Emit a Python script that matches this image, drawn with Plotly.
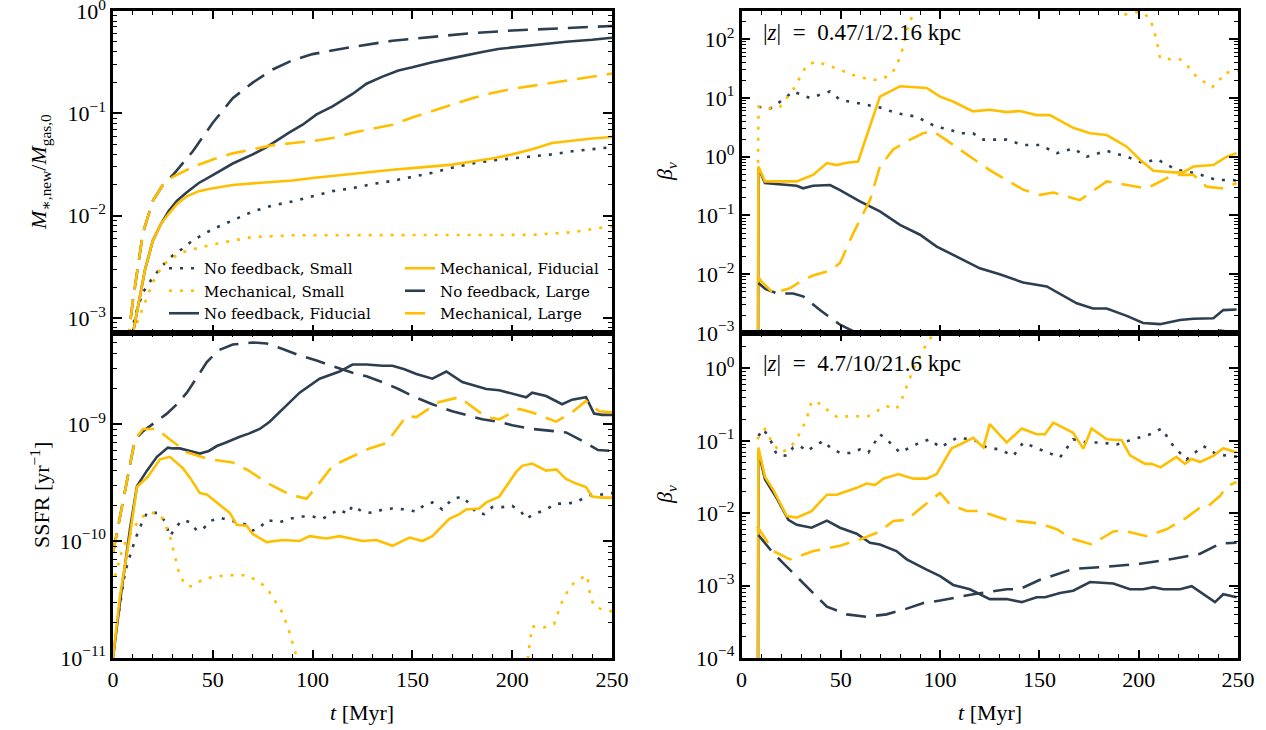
import plotly.graph_objects as go

# ---------------------------------------------------------------- colours
NAVY = "#2c3e50"
GOLD = "#ffbf00"
FONT = "Liberation Serif, DejaVu Serif, serif"
LEGEND_FAMILY = "DejaVu Serif, Liberation Serif, serif"

# ---------------------------------------------------------------- labels
LABELS = {
    "nf_small": "No feedback, Small",
    "mech_small": "Mechanical, Small",
    "nf_fid": "No feedback, Fiducial",
    "mech_fid": "Mechanical, Fiducial",
    "nf_large": "No feedback, Large",
    "mech_large": "Mechanical, Large",
}

# ================================================================ panel 1: new stellar mass fraction
T_MASS_NF_SMALL = [9, 12, 15, 20, 25, 30, 35, 40, 50, 60, 70, 80, 90, 100, 110, 120, 130, 140, 150,
                   160, 170, 180, 190, 200, 210, 220, 230, 240, 250]
MASS_NF_SMALL = [7.1e-4, 1.2e-3, 1.78e-3, 2.5e-3, 3.3e-3, 4.1e-3, 4.8e-3, 5.75e-3, 7.4e-3, 9.1e-3,
                 1.1e-2, 1.26e-2, 1.38e-2, 1.55e-2, 1.74e-2, 1.86e-2, 2.04e-2, 2.19e-2, 2.4e-2,
                 2.63e-2, 2.95e-2, 3.24e-2, 3.47e-2, 3.63e-2, 3.8e-2, 3.98e-2, 4.27e-2, 4.47e-2, 4.68e-2]

T_MASS_MECH_SMALL = [10, 15, 20, 25, 30, 35, 40, 50, 60, 70, 80, 90, 100, 150, 200, 210, 220, 230, 240, 250]
MASS_MECH_SMALL = [7.1e-4, 1.26e-3, 2.24e-3, 3.3e-3, 3.9e-3, 4.4e-3, 4.7e-3, 5.25e-3, 5.75e-3, 6.2e-3,
                   6.3e-3, 6.45e-3, 6.45e-3, 6.45e-3, 6.45e-3, 6.5e-3, 6.7e-3, 6.9e-3, 7.4e-3, 7.9e-3]

T_MASS_NF_FID = [10, 12, 16, 20, 24, 28, 32, 37, 43, 50, 60, 70, 77, 88, 95, 102, 110, 120, 127, 135,
                 143, 150, 160, 170, 177, 185, 193, 200, 210, 220, 227, 240, 250]
MASS_NF_FID = [7.1e-4, 1.12e-3, 2.95e-3, 5.75e-3, 8.3e-3, 1.12e-2, 1.4e-2, 1.7e-2, 2.09e-2, 2.5e-2,
               3.24e-2, 3.98e-2, 4.68e-2, 6.46e-2, 7.76e-2, 9.77e-2, 0.117, 0.155, 0.195, 0.229,
               0.263, 0.282, 0.316, 0.347, 0.372, 0.398, 0.427, 0.442, 0.468, 0.490, 0.501, 0.525, 0.55]

T_MASS_MECH_FID = [10, 12, 16, 20, 24, 28, 32, 37, 43, 50, 60, 70, 80, 90, 100, 110, 120, 130, 140,
                   150, 160, 170, 180, 190, 200, 210, 220, 230, 240, 250]
MASS_MECH_FID = [7.1e-4, 1.12e-3, 2.95e-3, 5.75e-3, 8.3e-3, 1.05e-2, 1.3e-2, 1.55e-2, 1.74e-2, 1.86e-2,
                 2.0e-2, 2.07e-2, 2.14e-2, 2.21e-2, 2.34e-2, 2.45e-2, 2.57e-2, 2.72e-2, 2.82e-2,
                 2.92e-2, 3.02e-2, 3.16e-2, 3.39e-2, 3.63e-2, 3.98e-2, 4.47e-2, 5.13e-2, 5.43e-2,
                 5.69e-2, 5.89e-2]

T_MASS_NF_LARGE = [7, 10, 15, 20, 25, 30, 40, 50, 60, 70, 80, 90, 100, 120, 140, 160, 180, 200, 225, 250]
MASS_NF_LARGE = [5.0e-4, 1.5e-3, 6.8e-3, 1.41e-2, 2.0e-2, 2.5e-2, 4.27e-2, 8.1e-2, 0.141, 0.20, 0.269,
                 0.331, 0.38, 0.447, 0.513, 0.562, 0.61, 0.646, 0.684, 0.716]

T_MASS_MECH_LARGE = [7, 10, 15, 20, 25, 30, 40, 50, 60, 70, 80, 90, 100, 110, 120, 130, 140, 150, 160,
                     170, 180, 190, 200, 210, 220, 230, 240, 250]
MASS_MECH_LARGE = [5.0e-4, 1.5e-3, 6.8e-3, 1.41e-2, 2.0e-2, 2.4e-2, 3.0e-2, 3.55e-2, 4.07e-2, 4.47e-2,
                   4.9e-2, 5.13e-2, 5.37e-2, 5.75e-2, 6.46e-2, 7.08e-2, 7.76e-2, 9.12e-2, 0.105, 0.123,
                   0.141, 0.158, 0.174, 0.186, 0.20, 0.214, 0.229, 0.245]

# ================================================================ panel 2: specific star formation rate
T_SSFR_NF_SMALL = [3, 6, 9.5, 13, 17, 22.5, 26, 28.5, 32, 35, 38.5, 42, 45, 48.5, 53.5, 58.5, 63, 67,
                   70, 73.5, 77, 83.5, 88.5, 95, 100, 105, 110, 113.5, 117.5, 120, 125, 130, 135, 140,
                   147, 152, 156, 160, 165, 170, 175, 178.5, 182, 186, 190, 195, 200, 204.5, 207, 211,
                   217, 222, 227, 232, 236, 240, 245, 250]
SSFR_NF_SMALL = [2.5e-11, 5.4e-11, 8.5e-11, 1.26e-10, 1.74e-10, 1.74e-10, 1.48e-10, 1.1e-10, 1.35e-10,
                 1.51e-10, 1.45e-10, 1.23e-10, 1.26e-10, 1.48e-10, 1.58e-10, 1.51e-10, 1.45e-10,
                 1.38e-10, 1.23e-10, 1.29e-10, 1.51e-10, 1.45e-10, 1.55e-10, 1.62e-10, 1.62e-10,
                 1.55e-10, 1.74e-10, 1.86e-10, 1.7e-10, 2.0e-10, 1.78e-10, 1.74e-10, 1.86e-10, 1.9e-10,
                 1.86e-10, 1.78e-10, 2.04e-10, 2.14e-10, 1.86e-10, 2.29e-10, 2.4e-10, 2.09e-10,
                 1.74e-10, 1.7e-10, 1.95e-10, 1.95e-10, 2.0e-10, 1.78e-10, 1.55e-10, 1.7e-10, 1.86e-10,
                 2.09e-10, 2.09e-10, 2.14e-10, 2.34e-10, 2.5e-10, 2.5e-10, 2.57e-10]

T_SSFR_MECH_SMALL = [1, 5, 10, 13.5, 17.5, 22, 25, 28.5, 31, 33.5, 37, 40, 45, 52, 60, 67, 72, 77, 80,
                     84.5, 87.5, 90, 92, 95, 205, 208.5, 210, 216, 221, 224.5, 227, 229, 233.5, 237.5,
                     239, 241, 246, 250]
SSFR_MECH_SMALL = [5.0e-11, 8.9e-11, 1.26e-10, 1.55e-10, 1.74e-10, 1.74e-10, 1.55e-10, 1.1e-10, 7.4e-11,
                   5.0e-11, 4.1e-11, 4.1e-11, 4.7e-11, 5.0e-11, 5.1e-11, 5.1e-11, 4.6e-11, 4.0e-11,
                   3.3e-11, 2.5e-11, 1.86e-11, 1.35e-11, 1.02e-11, 4e-12, 4e-12, 1.23e-11, 1.86e-11,
                   1.82e-11, 1.95e-11, 2.9e-11, 3.5e-11, 4.1e-11, 4.7e-11, 5.1e-11, 3.5e-11, 2.75e-11,
                   2.57e-11, 2.5e-11]

T_SSFR_NF_FID = [0, 4, 8.5, 12, 17, 22, 27.5, 30, 33.5, 38, 43.5, 48, 52, 56, 60, 63.5, 68, 73.5, 78.5,
                 85, 93.5, 103.5, 113.5, 120, 127, 135, 140, 146, 152, 160, 167, 175, 181, 187, 193.5,
                 200, 207, 210, 217, 225, 230, 237, 241, 245, 250]
SSFR_NF_FID = [1.0e-11, 3.5e-11, 1.26e-10, 2.95e-10, 4.0e-10, 5.25e-10, 6.3e-10, 6.2e-10, 6.2e-10,
               5.9e-10, 5.6e-10, 5.9e-10, 6.5e-10, 6.9e-10, 7.4e-10, 7.8e-10, 8.3e-10, 9.1e-10, 1.05e-9,
               1.35e-9, 1.86e-9, 2.45e-9, 2.82e-9, 3.24e-9, 3.24e-9, 3.16e-9, 3.16e-9, 2.95e-9,
               2.69e-9, 2.45e-9, 2.82e-9, 2.29e-9, 2.14e-9, 2.0e-9, 1.95e-9, 1.82e-9, 1.7e-9, 1.86e-9,
               1.74e-9, 1.48e-9, 1.62e-9, 1.7e-9, 1.23e-9, 1.2e-9, 1.2e-9]

T_SSFR_MECH_FID = [0, 3.5, 8.5, 12, 17.5, 23.5, 28.5, 35, 39, 43.5, 47, 52, 58.5, 62, 67, 70, 77, 85,
                   93.5, 98.5, 107, 113.5, 125, 132, 140, 148.5, 155, 160, 168.5, 173.5, 177, 183.5,
                   187, 193.5, 202, 205, 210, 217, 222, 227, 232, 237, 240, 245, 250]
SSFR_MECH_FID = [1.0e-11, 3.4e-11, 1.12e-10, 2.9e-10, 3.55e-10, 5.0e-10, 5.25e-10, 4.2e-10, 3.4e-10,
                 2.57e-10, 2.5e-10, 2.14e-10, 1.74e-10, 1.38e-10, 1.35e-10, 1.15e-10, 9.8e-11,
                 1.02e-10, 1.0e-10, 1.1e-10, 1.05e-10, 1.1e-10, 1.0e-10, 1.02e-10, 9.1e-11, 1.07e-10,
                 1.0e-10, 1.1e-10, 1.55e-10, 1.7e-10, 1.86e-10, 1.9e-10, 2.14e-10, 2.4e-10, 3.9e-10,
                 4.4e-10, 4.6e-10, 4.0e-10, 4.1e-10, 3.4e-10, 3.1e-10, 2.9e-10, 2.4e-10, 2.35e-10,
                 2.35e-10]

T_SSFR_NF_LARGE = [0, 6, 11, 15, 20, 27, 32, 37, 42, 47, 53, 60, 70, 77, 85, 93, 102, 110, 120, 127,
                   135, 143, 150, 160, 170, 177, 185, 193, 200, 210, 220, 227, 235, 243, 250]
SSFR_NF_LARGE = [7.9e-11, 2.75e-10, 7.4e-10, 8.7e-10, 1.0e-9, 1.23e-9, 1.48e-9, 1.86e-9, 2.5e-9,
                 3.4e-9, 4.3e-9, 4.8e-9, 5.0e-9, 4.9e-9, 4.4e-9, 3.9e-9, 3.5e-9, 3.16e-9, 2.75e-9,
                 2.57e-9, 2.29e-9, 2.0e-9, 1.74e-9, 1.48e-9, 1.29e-9, 1.2e-9, 1.1e-9, 1.05e-9, 9.8e-10,
                 9.1e-10, 8.7e-10, 8.5e-10, 7.2e-10, 6.0e-10, 5.9e-10]

T_SSFR_MECH_LARGE = [0, 6, 11, 15, 22, 28.5, 37, 48.5, 60, 68, 77, 88.5, 97, 103.5, 110, 122, 128.5,
                     137, 147, 152, 163.5, 173.5, 178.5, 187, 193.5, 203.5, 210, 222, 230, 237, 243.5, 250]
SSFR_MECH_LARGE = [7.9e-11, 2.75e-10, 7.4e-10, 9.1e-10, 9.1e-10, 7.4e-10, 5.75e-10, 5.0e-10, 4.7e-10,
                   4.0e-10, 3.16e-10, 2.5e-10, 2.3e-10, 3.16e-10, 4.4e-10, 5.5e-10, 6.2e-10, 6.9e-10,
                   1.17e-9, 1.15e-9, 1.55e-9, 1.7e-9, 1.48e-9, 1.15e-9, 1.1e-9, 1.35e-9, 1.26e-9,
                   1.05e-9, 1.26e-9, 1.58e-9, 1.29e-9, 1.26e-9]

# ================================================================ panel 3: mass loading, |z| = 0.47/1/2.16 kpc
T_BIN_NF_SMALL = [8.5, 14.4, 20, 26, 34.4, 44.6, 49.6, 59.6, 69.7, 78, 88, 98.3, 103.3, 110, 116.6,
                  121.8, 133.5, 141.8, 150.3, 158.7, 167, 173.8, 183.9, 194, 202.3, 209, 219, 229.2,
                  239.3, 247.6, 250]
BIN_NF_SMALL = [7.1, 6.6, 8.9, 12.9, 10.0, 12.9, 9.3, 8.1, 6.9, 5.5, 4.8, 3.2, 3.0, 2.5, 2.5, 1.95,
                1.95, 1.58, 1.58, 1.15, 1.38, 1.0, 1.26, 1.0, 0.78, 0.91, 0.60, 0.52, 0.40, 0.40, 0.38]

T_BIN_MECH_SMALL = [8.3, 8.6, 14.4, 19.4, 26, 32.8, 37.9, 43, 49.6, 56.3, 64.7, 69.7, 74.8, 78, 81.5,
                    83.2, 86.5, 90, 188, 191.4, 200.7, 205.7, 209, 210.7, 215.8, 220.8, 225, 228.3,
                    232.5, 236.7, 240, 242.6, 247.6, 250]
BIN_MECH_SMALL = [0.79, 7.1, 6.6, 7.1, 13.8, 36.3, 41.7, 36.3, 30.2, 24.5, 20.4, 20.4, 24.5, 33.9, 74,
                  135, 282, 1600, 1600, 257, 295, 229, 98, 48, 45.7, 45.7, 33.9, 24.5, 19.1, 15.1,
                  17.8, 26.3, 28.2, 28.8]

T_BIN_NF_FID = [8.2, 8.5, 11.8, 19.4, 27.8, 31, 36, 44.6, 49.6, 59.6, 69.7, 79.8, 89.9, 98.3, 106.5,
                120, 130, 141.8, 153.7, 168.8, 177, 183.9, 194, 202.2, 210.7, 220.8, 227.5, 237.6,
                242.6, 249.3]
BIN_NF_FID = [1e-6, 0.65, 0.355, 0.34, 0.32, 0.29, 0.32, 0.33, 0.27, 0.174, 0.117, 0.069, 0.047,
              0.0295, 0.0214, 0.0126, 0.01, 0.0072, 0.0062, 0.0032, 0.0026, 0.0026, 0.00195, 0.00148,
              0.00141, 0.00166, 0.00174, 0.00178, 0.00245, 0.00251]

T_BIN_MECH_FID = [8.2, 8.5, 11.8, 19.4, 27.8, 36, 43, 48, 53, 58.7, 69.7, 79.8, 88.2, 93.2, 100,
                  106.5, 116.6, 125, 133.5, 140.2, 148.6, 155.3, 167, 175.5, 183.9, 194, 200.7, 207.4,
                  217.4, 222.4, 227.5, 237.6, 244.3, 249.3]
BIN_MECH_FID = [1e-6, 0.68, 0.38, 0.38, 0.38, 0.49, 0.78, 0.72, 0.79, 0.83, 10.5, 15.8, 15.1, 14.8,
                10.5, 8.7, 5.9, 6.3, 5.75, 6.0, 5.1, 5.1, 3.1, 2.5, 2.34, 1.48, 0.89, 0.575, 0.54,
                0.54, 0.68, 0.72, 1.0, 1.15]

T_BIN_NF_LARGE = [8.5, 12, 18, 26, 31, 39.5, 49.6, 58, 64, 70, 230, 241, 250]
BIN_NF_LARGE = [7.1e-3, 5.6e-3, 4.7e-3, 4.7e-3, 4.2e-3, 2.45e-3, 1.38e-3, 1.0e-3, 7e-4, 5e-4, 5e-4,
                1.1e-3, 1.0e-3]

T_BIN_MECH_LARGE = [8.5, 10.2, 16, 24.4, 29.5, 36, 44.6, 49.6, 56.3, 64.7, 69.7, 76.3, 83.2, 91.4,
                    96.4, 101.5, 110, 125, 141.8, 150.3, 157, 170.4, 183.9, 194, 204, 217.4, 227.5,
                    234.2, 242.6, 249.3]
BIN_MECH_LARGE = [8.9e-3, 7.4e-3, 4.8e-3, 5.75e-3, 7.4e-3, 9.5e-3, 1.15e-2, 1.55e-2, 5.0e-2, 0.182,
                  0.68, 1.32, 1.82, 2.51, 2.69, 2.09, 1.32, 0.59, 0.275, 0.224, 0.245, 0.182, 0.38,
                  0.331, 0.288, 0.49, 0.49, 0.309, 0.288, 0.355]

# ================================================================ panel 4: mass loading, |z| = 4.7/10/21.6 kpc
T_BOUT_NF_SMALL = [8.5, 11, 14.4, 17.7, 22.8, 26, 29.5, 32.8, 41.2, 44.6, 49.6, 54.6, 59.6, 63.9,
                   69.7, 73, 79.8, 84.8, 89.9, 94.9, 100, 108.4, 116.7, 123.4, 130, 136.9, 141.9,
                   150.3, 160.4, 167, 173.8, 180.5, 188.9, 197.3, 205.7, 211.6, 217.4, 224.1, 232.5,
                   239.3, 246, 250]
BOUT_NF_SMALL = [0.117, 0.145, 0.105, 0.065, 0.062, 0.081, 0.085, 0.072, 0.10, 0.081, 0.068, 0.068,
                 0.076, 0.069, 0.123, 0.105, 0.069, 0.081, 0.095, 0.105, 0.081, 0.11, 0.105, 0.081,
                 0.076, 0.062, 0.095, 0.076, 0.059, 0.105, 0.095, 0.095, 0.089, 0.105, 0.123, 0.148,
                 0.085, 0.055, 0.085, 0.065, 0.062, 0.060]

T_BOUT_MECH_SMALL = [7.9, 11.8, 15, 19.4, 23.6, 27.8, 32.8, 35.3, 40.4, 44.6, 48.7, 53.8, 58.8, 63.9,
                     68, 73, 78, 81.5, 84, 86.5, 89.9, 93.2, 96.6, 100, 250]
BOUT_MECH_SMALL = [0.105, 0.145, 0.10, 0.069, 0.076, 0.105, 0.20, 0.355, 0.32, 0.245, 0.209, 0.219,
                   0.219, 0.219, 0.257, 0.302, 0.275, 0.417, 0.646, 0.977, 1.48, 2.19, 3.0, 10, 10]

T_BOUT_NF_FID = [8.2, 8.5, 11.8, 17.7, 23.6, 27.8, 35.3, 43, 49.6, 58, 64.7, 69.7, 78, 83.2, 93.2,
                 100, 106.6, 115, 125, 133.5, 141.1, 148.6, 152.8, 160.4, 167, 175.5, 187.2, 195.6,
                 202.2, 207.4, 212.4, 220.8, 226.7, 232.5, 238.4, 242.6, 249.3]
BOUT_NF_FID = [1e-6, 0.072, 0.0295, 0.0162, 0.0081, 0.0069, 0.0063, 0.0079, 0.0063, 0.0052, 0.0039,
               0.0037, 0.003, 0.0023, 0.00166, 0.00135, 0.00102, 8.9e-4, 6.5e-4, 6.5e-4, 5.9e-4,
               6.9e-4, 6.9e-4, 7.9e-4, 8.5e-4, 1.12e-3, 1.07e-3, 8.9e-4, 8.9e-4, 9.5e-4, 8.9e-4,
               8.9e-4, 9.8e-4, 7.6e-4, 5.9e-4, 7.6e-4, 6.9e-4]

T_BOUT_MECH_FID = [8.2, 8.5, 11.8, 16, 22.8, 27.8, 35.3, 43, 48, 58, 63, 67.2, 71.4, 79, 86.5, 93.2,
                   98.3, 105.8, 110, 116.7, 121.8, 125, 133.5, 141.1, 148.6, 152.8, 157, 167, 172.1,
                   176.3, 183.9, 191.4, 195.6, 203.2, 206.5, 211, 219, 223.3, 226.7, 230.9, 237.6,
                   242.6, 249.3]
BOUT_MECH_FID = [1e-6, 0.081, 0.032, 0.021, 0.0091, 0.0087, 0.0107, 0.018, 0.018, 0.0224, 0.0257,
                 0.0245, 0.030, 0.0347, 0.030, 0.030, 0.0347, 0.079, 0.089, 0.11, 0.081, 0.17, 0.095,
                 0.148, 0.123, 0.123, 0.178, 0.129, 0.078, 0.148, 0.105, 0.102, 0.063, 0.048, 0.048,
                 0.043, 0.060, 0.048, 0.056, 0.051, 0.062, 0.079, 0.069]

T_BOUT_NF_LARGE = [8.5, 16, 21, 32.8, 43, 53, 63, 73, 83.2, 91.6, 100, 116.7, 133.5, 140, 150.3, 167,
                   184, 200.7, 217.4, 230.9, 241, 249.3]
BOUT_NF_LARGE = [5.0e-3, 2.8e-3, 2.04e-3, 9.8e-4, 5.1e-4, 4.0e-4, 3.7e-4, 4.0e-4, 4.8e-4, 5.75e-4,
                 6.2e-4, 7.6e-4, 8.9e-4, 8.9e-4, 1.2e-3, 1.7e-3, 1.82e-3, 2.0e-3, 2.34e-3, 2.75e-3,
                 3.8e-3, 3.9e-3]

T_BOUT_MECH_LARGE = [7.9, 11.8, 16, 24.4, 36.2, 49.6, 61.3, 69.7, 76.4, 83.2, 91.6, 100, 105, 113.4,
                     120, 133.5, 141.9, 150.3, 158.7, 167, 176.3, 187.2, 192.2, 204, 214, 224.1, 230.9,
                     234.2, 241, 244.3, 249.3]
BOUT_MECH_LARGE = [6.6e-3, 4.6e-3, 3.0e-3, 2.3e-3, 3.0e-3, 3.55e-3, 4.5e-3, 5.6e-3, 7.8e-3, 8.1e-3,
                   1.26e-2, 1.9e-2, 1.32e-2, 1.07e-2, 1.07e-2, 8.1e-3, 7.6e-3, 7.2e-3, 6.0e-3, 4.4e-3,
                   3.7e-3, 5.6e-3, 5.75e-3, 4.8e-3, 6.0e-3, 8.7e-3, 1.2e-2, 1.2e-2, 1.74e-2, 2.34e-2,
                   2.7e-2]

# ---------------------------------------------------------------- tick labels
X_TICKS = [0, 50, 100, 150, 200, 250]
MASS_TICKS = [1e-3, 1e-2, 1e-1, 1]
MASS_TICKTEXT = ["10<sup>−3</sup>", "10<sup>−2</sup>", "10<sup>−1</sup>", "10<sup>0</sup>"]
SSFR_TICKS = [1e-11, 1e-10, 1e-9]
SSFR_TICKTEXT = ["10<sup>−11</sup>", "10<sup>−10</sup>", "10<sup>−9</sup>"]
BIN_TICKS = [1e-3, 1e-2, 1e-1, 1, 10, 100]
BIN_TICKTEXT = ["10<sup>−3</sup>", "10<sup>−2</sup>", "10<sup>−1</sup>", "10<sup>0</sup>",
                "10<sup>1</sup>", "10<sup>2</sup>"]
BOUT_TICKS = [1e-4, 1e-3, 1e-2, 1e-1, 1]
BOUT_TICKTEXT = ["10<sup>−4</sup>", "10<sup>−3</sup>", "10<sup>−2</sup>", "10<sup>−1</sup>",
                 "10<sup>0</sup>"]

# ---------------------------------------------------------------- line styles
DOT = "3px,8px"
DASH = "20px,10px"
STYLES = {
    "nf_small": (NAVY, DOT),
    "mech_small": (GOLD, DOT),
    "nf_fid": (NAVY, "solid"),
    "mech_fid": (GOLD, "solid"),
    "nf_large": (NAVY, DASH),
    "mech_large": (GOLD, DASH),
}
LEGEND_OF = {"nf_small": "legend", "mech_small": "legend", "nf_fid": "legend",
             "mech_fid": "legend2", "nf_large": "legend2", "mech_large": "legend2"}

PANELS = [
    ("x", "y", {
        "nf_small": (T_MASS_NF_SMALL, MASS_NF_SMALL),
        "mech_small": (T_MASS_MECH_SMALL, MASS_MECH_SMALL),
        "nf_fid": (T_MASS_NF_FID, MASS_NF_FID),
        "mech_fid": (T_MASS_MECH_FID, MASS_MECH_FID),
        "nf_large": (T_MASS_NF_LARGE, MASS_NF_LARGE),
        "mech_large": (T_MASS_MECH_LARGE, MASS_MECH_LARGE),
    }),
    ("x2", "y2", {
        "nf_small": (T_SSFR_NF_SMALL, SSFR_NF_SMALL),
        "mech_small": (T_SSFR_MECH_SMALL, SSFR_MECH_SMALL),
        "nf_fid": (T_SSFR_NF_FID, SSFR_NF_FID),
        "mech_fid": (T_SSFR_MECH_FID, SSFR_MECH_FID),
        "nf_large": (T_SSFR_NF_LARGE, SSFR_NF_LARGE),
        "mech_large": (T_SSFR_MECH_LARGE, SSFR_MECH_LARGE),
    }),
    ("x3", "y3", {
        "nf_small": (T_BIN_NF_SMALL, BIN_NF_SMALL),
        "mech_small": (T_BIN_MECH_SMALL, BIN_MECH_SMALL),
        "nf_fid": (T_BIN_NF_FID, BIN_NF_FID),
        "mech_fid": (T_BIN_MECH_FID, BIN_MECH_FID),
        "nf_large": (T_BIN_NF_LARGE, BIN_NF_LARGE),
        "mech_large": (T_BIN_MECH_LARGE, BIN_MECH_LARGE),
    }),
    ("x4", "y4", {
        "nf_small": (T_BOUT_NF_SMALL, BOUT_NF_SMALL),
        "mech_small": (T_BOUT_MECH_SMALL, BOUT_MECH_SMALL),
        "nf_fid": (T_BOUT_NF_FID, BOUT_NF_FID),
        "mech_fid": (T_BOUT_MECH_FID, BOUT_MECH_FID),
        "nf_large": (T_BOUT_NF_LARGE, BOUT_NF_LARGE),
        "mech_large": (T_BOUT_MECH_LARGE, BOUT_MECH_LARGE),
    }),
]

W, H = 1266, 730

fig = go.Figure()
for i, (xa, ya, series) in enumerate(PANELS):
    for key, (t, v) in series.items():
        color, dash = STYLES[key]
        fig.add_trace(go.Scatter(
            x=t, y=v, mode="lines", name=LABELS[key],
            line=dict(color=color, width=2.6, dash=dash),
            xaxis=xa, yaxis=ya,
            showlegend=(i == 0), legend=LEGEND_OF[key],
            hoverinfo="skip",
        ))


def px_x(p):
    return p / W


def px_y(p):
    return 1 - p / H


def log_minor(lo, hi):
    return [m * 10 ** k for k in range(lo, hi) for m in range(2, 10)]


TICKFONT = dict(family=FONT, size=22, color="black")
common_axis = dict(showline=True, linewidth=2.5, linecolor="black", mirror="allticks",
                   ticks="inside", tickwidth=1.5, tickcolor="black", showgrid=False,
                   zeroline=False, tickfont=TICKFONT, automargin=False,
                   ticklabeloverflow="allow")


def x_axis(domain, anchor, labels):
    return dict(common_axis, domain=domain, anchor=anchor, range=[0, 250],
                tickmode="array", tickvals=X_TICKS, ticklen=8, showticklabels=labels,
                minor=dict(ticks="inside", ticklen=4, tickwidth=1.2, tickcolor="black",
                           tickmode="linear", tick0=0, dtick=10))


def y_axis(domain, anchor, rng, vals, text, lo, hi):
    return dict(common_axis, domain=domain, anchor=anchor, type="log", range=rng,
                tickmode="array", tickvals=vals, ticktext=text, ticklen=9,
                minor=dict(ticks="inside", ticklen=4.5, tickwidth=1.2, tickcolor="black",
                           tickmode="array", tickvals=log_minor(lo, hi)))


LEFT = [px_x(113), px_x(612)]
RIGHT = [px_x(741.5), px_x(1238)]
TOP = [px_y(333), px_y(11)]
BOTTOM = [px_y(658), px_y(333)]

LEGEND_FONT = dict(family=LEGEND_FAMILY, size=15, color="black")

fig.update_layout(
    template="none",
    width=W, height=H,
    margin=dict(l=0, r=0, t=0, b=0, autoexpand=False),
    paper_bgcolor="white", plot_bgcolor="white",
    font=dict(family=FONT, color="black"),
    xaxis=x_axis(LEFT, "y", False),
    xaxis2=x_axis(LEFT, "y2", True),
    xaxis3=x_axis(RIGHT, "y3", False),
    xaxis4=x_axis(RIGHT, "y4", True),
    yaxis=y_axis(TOP, "x", [-3.146, 0.001], MASS_TICKS, MASS_TICKTEXT, -4, 1),
    yaxis2=y_axis(BOTTOM, "x2", [-11.001, -8.22], SSFR_TICKS, SSFR_TICKTEXT, -12, -7),
    yaxis3=y_axis(TOP, "x3", [-3.001, 2.48], BIN_TICKS, BIN_TICKTEXT, -4, 3),
    yaxis4=y_axis(BOTTOM, "x4", [-4.001, 0.49], BOUT_TICKS, BOUT_TICKTEXT, -5, 1),
    legend=dict(x=px_x(164), y=px_y(252), xanchor="left", yanchor="top",
                bgcolor="rgba(0,0,0,0)", borderwidth=0, tracegroupgap=0, font=LEGEND_FONT),
    legend2=dict(x=px_x(400), y=px_y(252), xanchor="left", yanchor="top",
                 bgcolor="rgba(0,0,0,0)", borderwidth=0, tracegroupgap=0, font=LEGEND_FONT),
    showlegend=True,
)

ann_font = dict(family=FONT, size=22, color="black")
z_font = dict(family=FONT, size=23, color="black")
annotations = [
    dict(text="<i>M</i><sub>∗,new</sub>/<i>M</i><sub>gas,0</sub>", x=px_x(40), y=px_y(172),
         textangle=-90, font=ann_font),
    dict(text="SSFR [yr<sup>−1</sup>]", x=px_x(40), y=px_y(495), textangle=-90, font=ann_font),
    dict(text="<i>β</i><sub><i>v</i></sub>", x=px_x(666), y=px_y(172), textangle=-90, font=ann_font),
    dict(text="<i>β</i><sub><i>v</i></sub>", x=px_x(666), y=px_y(495), textangle=-90, font=ann_font),
    dict(text="<i>t</i> [Myr]", x=px_x(362), y=px_y(712), font=ann_font),
    dict(text="<i>t</i> [Myr]", x=px_x(990), y=px_y(712), font=ann_font),
    dict(text="|<i>z</i>|\u00a0\u00a0=\u00a0\u00a00.47/1/2.16 kpc", x=px_x(761), y=px_y(33),
         xanchor="left", font=z_font),
    dict(text="|<i>z</i>|\u00a0\u00a0=\u00a0\u00a04.7/10/21.6 kpc", x=px_x(761), y=px_y(363),
         xanchor="left", font=z_font),
]
for a in annotations:
    a.setdefault("xanchor", "center")
    a.update(xref="paper", yref="paper", showarrow=False, yanchor="middle")
fig.update_layout(annotations=annotations)

fig.write_html("out.html")
